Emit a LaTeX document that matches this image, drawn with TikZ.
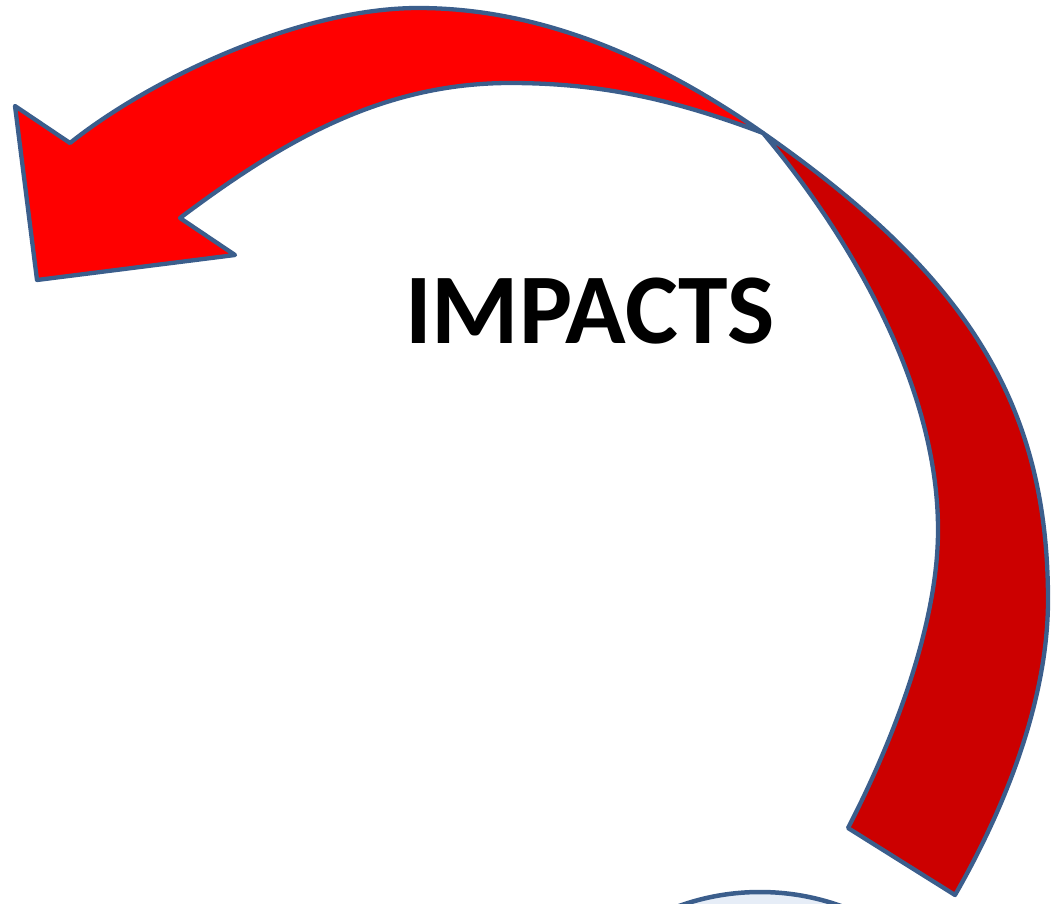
\documentclass[tikz,border=0pt]{standalone}
\usepackage{fontspec}
\setmainfont{Carlito}
\definecolor{edgeblue}{RGB}{59,94,140}
\definecolor{brightred}{RGB}{255,0,0}
\definecolor{darkred}{RGB}{204,0,0}
\definecolor{paleblue}{RGB}{230,237,247}
\begin{document}
\begin{tikzpicture}[x=1pt,y=-1pt,
  bandedge/.style={draw=edgeblue,line width=4.3pt,line join=round},
  titletext/.style={font=\fontsize{100}{100}\selectfont\bfseries,inner sep=0pt,anchor=base}]
\useasboundingbox (0,0) rectangle (1057,903);
% partial circle at bottom
\begin{scope}
\clip (0,0) rectangle (1057,903);
\draw[draw=edgeblue,line width=4.5pt,fill=paleblue] (760,1132) circle[radius=240];
\end{scope}
% dark (back) part of the band
\path[bandedge,fill=darkred]
  (763,133) .. controls (963,273) and (1048,400) .. (1048,600)
  .. controls (1048,700) and (1005,808) .. (955,895)
  -- (848,828)
  .. controls (888,751) and (938,630) .. (938,530)
  .. controls (938,380) and (843,228) .. cycle;
% bright (front) part with arrow head
\path[bandedge,fill=brightred]
  (763,133) .. controls (653,56) and (538,8) .. (418,8)
  .. controls (300,8) and (150,79) .. (70,143)
  -- (15,106) -- (37,280) -- (235,255) -- (180,218)
  .. controls (280,143) and (380,83) .. (510,83)
  .. controls (600,83) and (673,99) .. cycle;
\node[titletext] (title) at (590,343) {IMPACTS};
\end{tikzpicture}
\end{document}
